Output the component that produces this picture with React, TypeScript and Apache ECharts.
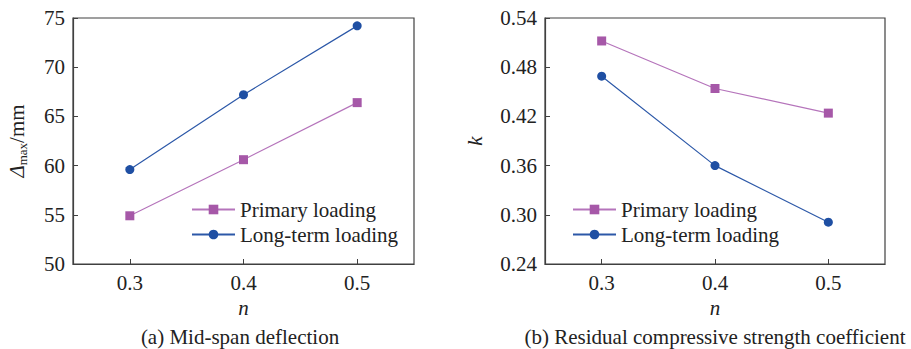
import React, { useEffect, useRef } from "react";
import * as echarts from "echarts";

const nCategories = ["0.3", "0.4", "0.5"];
const deflectionPrimary = [54.9, 60.6, 66.4];
const deflectionLongTerm = [59.6, 67.2, 74.2];
const kPrimary = [0.512, 0.454, 0.424];
const kLongTerm = [0.469, 0.36, 0.291];
const seriesNames = ["Primary loading", "Long-term loading"];
const captions = ["(a) Mid-span deflection", "(b) Residual compressive strength coefficient"];

const FONT = "Liberation Serif";
const PURPLE_LINE = "#b574bb";
const PURPLE = "#a658a8";
const BLUE_LINE = "#2c58a8";
const BLUE = "#1f4fa3";
const AXIS = "#404040";

export default function App() {
  const ref = useRef<HTMLDivElement>(null);
  useEffect(() => {
    document.body.style.margin = "0";
    if (!ref.current) return;
    const chart = echarts.init(ref.current, undefined, { renderer: "svg" });
    const axisLine = { show: true, lineStyle: { color: AXIS, width: 1.2 } };
    const xAxisCommon = {
      type: "category" as const,
      data: nCategories,
      boundaryGap: true,
      axisLine,
      axisTick: { show: true, inside: true, alignWithLabel: true, length: 5, lineStyle: { color: AXIS } },
      axisLabel: { fontFamily: FONT, fontSize: 21, color: "#222", margin: 8 },
      splitLine: { show: false },
      name: "n",
      nameLocation: "middle" as const,
      nameGap: 33,
      nameTextStyle: { fontFamily: FONT, fontSize: 21, fontStyle: "italic", color: "#222" },
    };
    const yLabel = { fontFamily: FONT, fontSize: 21, color: "#222", margin: 8 };
    const yTick = { show: true, inside: true, length: 5, lineStyle: { color: AXIS } };
    const legendCommon = {
      orient: "vertical" as const,
      itemWidth: 43,
      itemHeight: 12,
      itemGap: 4,
      data: seriesNames,
      formatter: (name: string) => `{t|${name}}`,
      textStyle: {
        fontFamily: FONT,
        fontSize: 21,
        color: "#222",
        rich: { t: { fontFamily: FONT, fontSize: 21, color: "#222", lineHeight: 24 } },
      },
      backgroundColor: "transparent",
    };
    const mk = (name: string, data: number[], idx: number, primary: boolean) => ({
      name,
      type: "line" as const,
      xAxisIndex: idx,
      yAxisIndex: idx,
      data,
      symbol: primary ? "rect" : "circle",
      symbolSize: 9,
      lineStyle: { color: primary ? PURPLE_LINE : BLUE_LINE, width: 1.2 },
      itemStyle: { color: primary ? PURPLE : BLUE },
      color: primary ? PURPLE : BLUE,
    });
    chart.setOption({
      animation: false,
      textStyle: { fontFamily: FONT },
      grid: [
        { left: 73, top: 18, width: 341, height: 246, show: true, borderColor: AXIS, borderWidth: 1.2, backgroundColor: "transparent" },
        { left: 545, top: 18, width: 340, height: 246, show: true, borderColor: AXIS, borderWidth: 1.2, backgroundColor: "transparent" },
      ],
      xAxis: [
        { ...xAxisCommon, gridIndex: 0 },
        { ...xAxisCommon, gridIndex: 1 },
      ],
      yAxis: [
        {
          type: "value",
          gridIndex: 0,
          min: 50,
          max: 75,
          interval: 5,
          axisLine,
          axisTick: yTick,
          axisLabel: yLabel,
          splitLine: { show: false },
          name: "{i|Δ}{s|max}{r|/mm}",
          nameLocation: "middle",
          nameGap: 44,
          nameTextStyle: {
            fontFamily: FONT,
            color: "#222",
            rich: {
              i: { fontFamily: FONT, fontSize: 21, fontStyle: "italic", lineHeight: 24, color: "#222" },
              s: { fontFamily: FONT, fontSize: 13, lineHeight: 12, verticalAlign: "bottom", color: "#222" },
              r: { fontFamily: FONT, fontSize: 21, lineHeight: 24, color: "#222" },
            },
          },
        },
        {
          type: "value",
          gridIndex: 1,
          min: 0.24,
          max: 0.54,
          interval: 0.06,
          axisLine,
          axisTick: yTick,
          axisLabel: { ...yLabel, formatter: (v: number) => v.toFixed(2) },
          splitLine: { show: false },
          name: "k",
          nameLocation: "middle",
          nameGap: 60,
          nameTextStyle: { fontFamily: FONT, fontSize: 21, fontStyle: "italic", color: "#222" },
        },
      ],
      legend: [
        { ...legendCommon, left: 186, top: 194 },
        { ...legendCommon, left: 567, top: 194 },
      ],
      series: [
        mk(seriesNames[0], deflectionPrimary, 0, true),
        mk(seriesNames[1], deflectionLongTerm, 0, false),
        mk(seriesNames[0], kPrimary, 1, true),
        mk(seriesNames[1], kLongTerm, 1, false),
      ],
      graphic: [
        {
          type: "text",
          x: 240,
          y: 337,
          style: { text: captions[0], fontFamily: FONT, fontSize: 21, fill: "#222", textAlign: "center", textVerticalAlign: "middle" },
        },
        {
          type: "text",
          x: 715,
          y: 337,
          style: { text: captions[1], fontFamily: FONT, fontSize: 21, fill: "#222", textAlign: "center", textVerticalAlign: "middle" },
        },
      ],
    });
    return () => chart.dispose();
  }, []);
  return <div ref={ref} style={{ width: 911, height: 349 }} />;
}
